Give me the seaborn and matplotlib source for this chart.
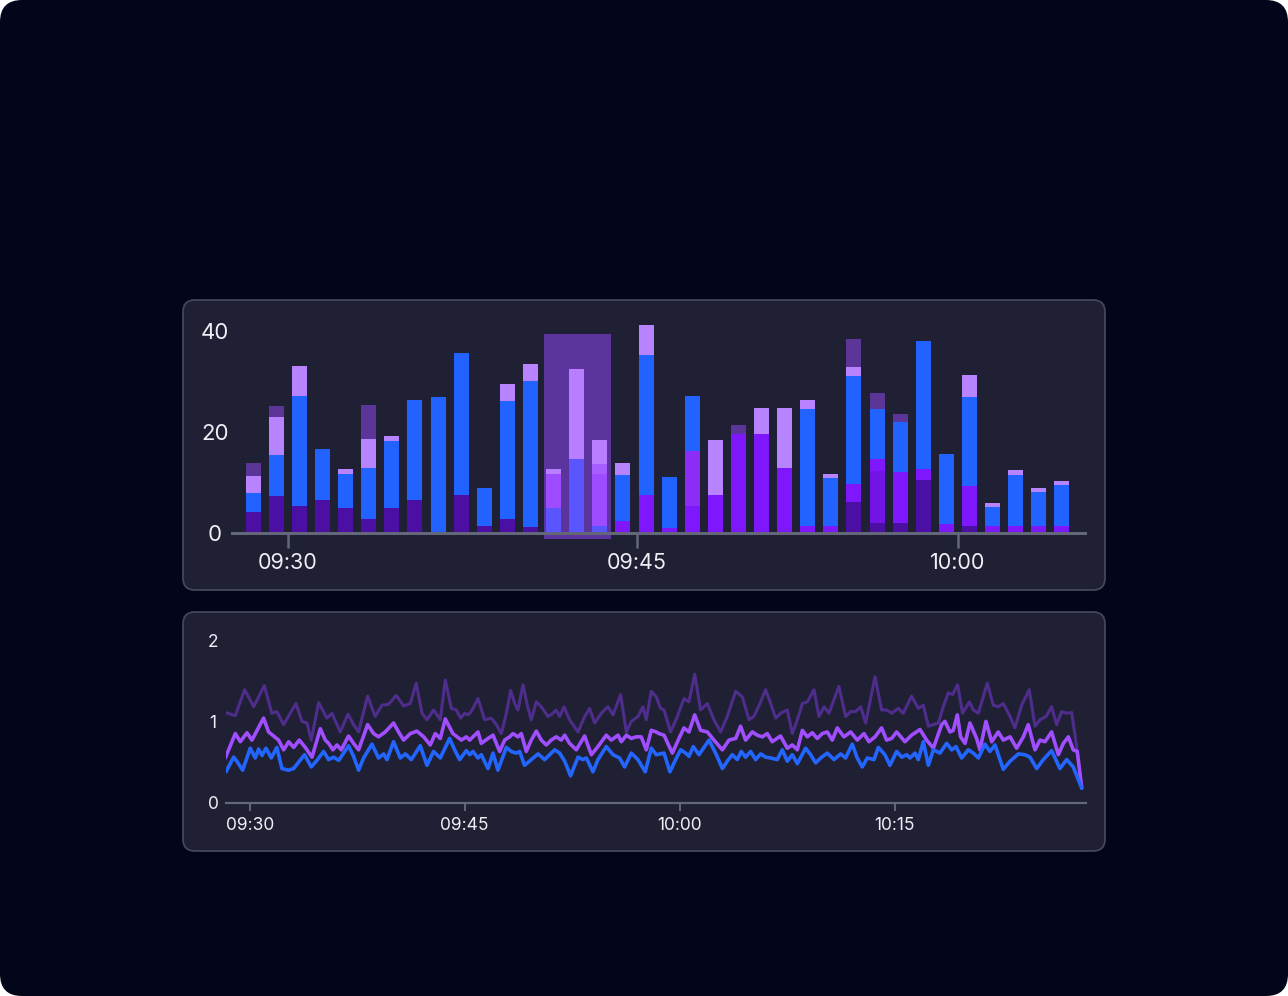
import numpy as np
import pandas as pd
import matplotlib
matplotlib.use("Agg")
import matplotlib.pyplot as plt
import seaborn as sns
from matplotlib.patches import FancyBboxPatch, Rectangle

# ---- top chart: stacked bars (bar index 0..35) ----
bar_idx = list(range(36))
dark_indigo = [4.2, 7.4, 5.5, 6.5, 5.0, 2.8, 5.0, 6.5, 0, 7.6, 1.5, 2.8, 1.3, 5.0, 14.7, 1.4, 0, 0,
               0, 0, 0, 0, 0, 0, 0, 0, 6.1, 2.0, 2.0, 10.6, 0, 1.5, 0, 0, 0, 0]
violet_dark = [0, 0, 0, 0, 0, 0, 0, 0, 0, 0, 0, 0, 0, 0, 0, 0, 0, 0,
               0, 0, 0, 0, 0, 0, 0, 0, 0, 10.4, 0, 0, 0, 0, 0, 0, 0, 0]
violet = [0, 0, 0, 0, 0, 0, 0, 0, 0, 0, 0, 0, 0, 6.8, 0, 10.3, 2.4, 7.6,
          1.0, 5.4, 7.5, 19.7, 19.6, 12.9, 1.4, 1.4, 3.7, 2.3, 10.2, 2.1, 1.9, 7.8, 1.5, 1.5, 1.5, 1.5]
violet_light = [0, 0, 0, 0, 0, 0, 0, 0, 0, 0, 0, 0, 0, 0, 0, 2.0, 0, 0,
                0, 10.9, 0, 0, 0, 0, 0, 0, 0, 0, 0, 0, 0, 0, 0, 0, 0, 0]
blue = [3.7, 8.1, 21.6, 10.1, 6.8, 10.2, 13.3, 19.9, 26.9, 28.1, 7.5, 23.4, 28.9, 0, 0, 0, 9.1, 27.8,
        10.1, 10.9, 0, 0, 0, 0, 23.2, 9.5, 21.4, 9.9, 9.9, 25.3, 13.8, 17.6, 3.7, 10.1, 6.6, 8.1]
lavender = [3.5, 7.5, 6.0, 0, 0.9, 5.7, 1.0, 0, 0, 0, 0, 3.4, 3.3, 0.9, 17.8, 4.8, 2.4, 5.8,
            0, 0, 10.9, 0, 5.2, 11.9, 1.8, 0.8, 1.7, 0, 0, 0, 0, 4.4, 0.8, 0.9, 0.8, 0.8]
dusk = [2.6, 2.2, 0, 0, 0, 6.7, 0, 0, 0, 0, 0, 0, 0, 0, 0, 0, 0, 0,
        0, 0, 0, 1.8, 0, 0, 0, 0, 5.5, 3.2, 1.5, 0, 0, 0, 0, 0, 0, 0]

selected = [13, 14, 15]
sel_top = 39.5
bar_ticks = [1.5, 16.6, 30.5]
bar_tick_labels = ["09:30", "09:45", "10:00"]

# ---- bottom chart: three lines, minutes after 09:30 ----
t_top = [-1.70, -1.00, -0.35, 0.28, 1.02, 1.55, 1.90, 2.37, 3.23, 3.65, 4.00, 4.30, 4.81, 5.39, 5.74,
         6.32, 6.86, 7.25, 7.60, 8.23, 8.76, 9.23, 9.69, 10.23, 10.74, 11.21, 11.62, 12.02, 12.37, 12.83, 13.30,
         13.65, 14.07, 14.42, 14.72, 15.00, 15.23, 15.46, 15.93, 16.39, 16.86, 17.21, 17.56, 17.91, 18.21,
         18.49, 18.72, 19.07, 19.42, 19.65, 20.00, 20.35, 20.81, 21.16, 21.39, 21.63, 21.93, 22.32, 22.91,
         23.37, 23.72, 24.07, 24.53, 25.00, 25.35, 25.88, 26.28, 26.63, 27.09, 27.44, 27.67, 28.02, 28.37,
         28.67, 28.91, 29.37, 29.84, 30.30, 30.65, 31.05, 31.46, 31.93, 32.39, 32.86, 33.32, 33.91, 34.37,
         34.84, 35.18, 35.60, 36.00, 36.35, 36.70, 37.04, 37.51, 37.86, 38.21, 38.56, 38.91, 39.37, 39.72,
         40.07, 40.42, 41.11, 41.58, 41.93, 42.28, 42.63, 42.98,
         43.63, 44.09, 44.44, 44.79, 45.25, 45.60, 46.18, 46.65, 47.00, 47.35, 47.70, 48.05, 48.39, 48.74,
         49.05, 49.39, 49.74, 50.21, 50.49, 50.84, 51.46, 51.88, 52.23, 52.58, 53.05, 53.39, 53.86, 54.39,
         54.79, 55.14, 55.56, 55.95, 56.30, 56.65, 57.00, 57.35, 57.70, 58.05]
v_top = [1.11, 1.07, 1.39, 1.18, 1.44, 1.10, 1.12, 0.96, 1.22, 1.00, 0.98, 0.77, 1.23, 1.04, 1.10,
         0.87, 1.09, 0.96, 0.87, 1.31, 1.06, 1.20, 1.21, 1.32, 1.19, 1.22, 1.47, 1.10, 1.02, 1.14, 1.02,
         1.51, 1.16, 1.14, 1.04, 1.10, 1.08, 1.12, 1.28, 1.02, 1.04, 0.96, 0.85, 1.10, 1.38,
         1.22, 1.14, 1.45, 1.16, 1.02, 1.24, 1.18, 1.06, 1.10, 1.14, 1.06, 1.18, 1.02, 0.87,
         1.06, 1.16, 0.98, 1.10, 1.18, 1.08, 1.33, 0.87, 1.00, 1.06, 1.18, 1.02, 1.37, 1.30,
         1.16, 1.14, 0.87, 1.06, 1.28, 1.24, 1.58, 1.14, 1.22, 1.02, 0.87, 1.06, 1.37, 1.30,
         1.02, 1.06, 1.22, 1.39, 1.22, 1.04, 1.10, 1.14, 0.85, 1.02, 1.22, 1.24, 1.39, 1.06,
         1.18, 1.10, 1.43, 1.06, 1.12, 1.12, 1.18, 0.98,
         1.55, 1.14, 1.14, 1.10, 1.16, 1.10, 1.31, 1.16, 1.20, 0.94, 0.96, 0.98, 1.18, 1.35,
         1.33, 1.45, 1.10, 1.24, 1.14, 1.10, 1.47, 1.20, 1.18, 1.22, 1.06, 0.92, 1.20, 1.39,
         0.94, 1.02, 1.06, 1.18, 0.96, 1.12, 1.10, 1.11, 0.69, 0.18]

t_mid = [-1.70, -1.00, -0.65, -0.19, 0.16, 0.97, 1.32, 2.02, 2.37, 2.72, 3.07, 3.46, 3.88, 4.35, 4.93,
         5.28, 5.51, 5.81, 6.09, 6.39, 6.90, 7.25, 7.60, 8.23, 8.65, 8.99, 9.46, 10.04, 10.39, 10.74,
         11.21, 11.67, 12.14, 12.60, 12.95, 13.30,
         13.65, 14.18, 14.77, 15.12, 15.35, 15.93, 16.16, 16.63, 16.98, 17.44, 17.79, 18.14, 18.37, 18.72,
         18.95, 19.30, 19.65, 20.00, 20.35, 20.70, 21.04, 21.39, 21.74, 21.98, 22.32, 22.79, 23.37, 23.84,
         24.30, 24.88, 25.23, 25.70, 25.93, 26.28, 26.63, 26.97, 27.32, 27.67, 28.02, 28.37,
         28.56, 28.91, 29.49, 29.95, 30.30, 30.65, 31.05, 31.46, 31.93, 32.39, 32.98, 33.44, 33.91, 34.25,
         34.60, 35.07, 35.42, 35.77, 36.11, 36.46, 37.04, 37.51, 37.86, 38.21, 38.56, 38.91, 39.25, 39.60,
         39.95, 40.30, 40.65, 41.00, 41.46, 41.93, 42.39, 42.86, 43.21,
         43.63, 44.09, 44.44, 44.79, 45.14, 45.72, 46.18, 46.77, 47.23, 47.70, 48.28, 48.51, 48.86, 49.09,
         49.37, 49.60, 49.91, 50.25, 50.72, 50.95, 51.37, 51.77, 52.23, 52.58, 53.05, 53.51, 53.98, 54.32,
         54.79, 55.14, 55.49, 55.95, 56.42, 56.77, 57.12, 57.46, 57.74, 58.05]
v_mid = [0.55, 0.85, 0.75, 0.86, 0.77, 1.04, 0.87, 0.77, 0.65, 0.75, 0.68, 0.77, 0.68, 0.56, 0.91,
         0.77, 0.73, 0.65, 0.71, 0.65, 0.82, 0.73, 0.65, 0.96, 0.85, 0.81, 0.87, 0.98, 0.87, 0.77,
         0.85, 0.88, 0.81, 0.71, 0.85, 0.79,
         1.03, 0.85, 0.77, 0.81, 0.77, 0.87, 0.73, 0.79, 0.83, 0.63, 0.77, 0.81, 0.85, 0.81,
         0.85, 0.63, 0.77, 0.88, 0.77, 0.71, 0.77, 0.81, 0.77, 0.83, 0.73, 0.65, 0.82, 0.59,
         0.69, 0.83, 0.77, 0.83, 0.75, 0.83, 0.79, 0.81, 0.81, 0.65, 0.89, 0.87,
         0.85, 0.83, 0.61, 0.79, 0.92, 0.87, 1.08, 0.89, 0.87, 0.77, 0.65, 0.77, 0.79, 0.94,
         0.77, 0.87, 0.83, 0.81, 0.85, 0.75, 0.82, 0.67, 0.71, 0.65, 0.89, 0.81, 0.86, 0.79,
         0.85, 0.87, 0.77, 0.92, 0.81, 0.87, 0.77, 0.85, 0.75,
         0.81, 0.92, 0.77, 0.79, 0.87, 0.75, 0.83, 0.90, 0.77, 0.67, 0.96, 1.00, 0.87, 0.89,
         1.08, 0.81, 0.73, 0.98, 0.79, 0.65, 1.00, 0.75, 0.87, 0.77, 0.81, 0.67, 0.81, 0.96,
         0.65, 0.77, 0.75, 0.87, 0.59, 0.73, 0.81, 0.65, 0.63, 0.18]

t_low = [-1.65, -1.12, -0.89, -0.49, 0.04, 0.39, 0.62, 0.86, 1.14, 1.51, 1.90, 2.25, 2.72, 3.07, 3.42,
         3.83, 4.30, 4.69, 5.16, 5.51, 5.86, 6.21, 6.90, 7.25, 7.60, 7.95, 8.53, 8.99, 9.35, 9.58,
         10.04, 10.51, 10.86, 11.28, 11.90, 12.37, 12.83, 13.30,
         13.95, 14.30, 14.65, 15.12, 15.35, 15.58, 15.93, 16.16, 16.63, 16.98, 17.32, 17.91, 18.25, 18.60,
         18.84, 19.18, 19.65, 20.12, 20.58, 20.93, 21.28, 21.63, 21.98, 22.39, 22.91, 23.25, 23.49, 23.95,
         24.30, 24.88, 25.35, 25.81, 26.16, 26.63, 27.09, 27.60, 28.02, 28.37,
         28.91, 29.32, 29.72, 30.07, 30.42, 30.65, 30.95, 31.35, 31.58, 32.05, 32.51, 32.98, 33.32, 33.67,
         34.02, 34.30, 34.60, 34.95, 35.30, 35.65, 36.00, 36.35, 36.81, 37.16, 37.51, 37.86, 38.21, 38.79,
         39.14, 39.49, 39.84, 40.30, 40.77, 41.23, 41.58, 42.04, 42.39, 42.74, 43.09, 43.56,
         43.86, 44.32, 44.67, 45.14, 45.49, 45.84, 46.07, 46.42, 46.65, 47.00, 47.35, 47.70, 48.16, 48.63,
         48.98, 49.28, 49.67, 50.14, 50.49, 50.84, 51.30, 51.65, 52.00, 52.58, 53.05, 53.63, 54.09, 54.44,
         54.91, 55.37, 55.95, 56.53, 57.00, 57.46, 58.05]
v_low = [0.38, 0.56, 0.51, 0.40, 0.67, 0.55, 0.66, 0.58, 0.67, 0.55, 0.68, 0.42, 0.40, 0.42, 0.50,
         0.59, 0.44, 0.52, 0.63, 0.53, 0.56, 0.52, 0.70, 0.57, 0.40, 0.55, 0.72, 0.55, 0.60, 0.53,
         0.75, 0.55, 0.60, 0.53, 0.70, 0.46, 0.63, 0.55,
         0.79, 0.65, 0.53, 0.64, 0.59, 0.63, 0.55, 0.59, 0.42, 0.61, 0.40, 0.68, 0.63, 0.61,
         0.63, 0.46, 0.53, 0.60, 0.53, 0.59, 0.65, 0.61, 0.51, 0.33, 0.56, 0.53, 0.55, 0.38,
         0.53, 0.69, 0.59, 0.55, 0.44, 0.61, 0.53, 0.38, 0.67, 0.59,
         0.61, 0.38, 0.53, 0.65, 0.61, 0.57, 0.69, 0.59, 0.65, 0.77, 0.61, 0.42, 0.51, 0.59,
         0.53, 0.63, 0.56, 0.63, 0.53, 0.60, 0.56, 0.55, 0.53, 0.65, 0.51, 0.59, 0.48, 0.67,
         0.59, 0.49, 0.55, 0.61, 0.53, 0.60, 0.55, 0.72, 0.55, 0.44, 0.55, 0.53,
         0.68, 0.59, 0.46, 0.63, 0.56, 0.59, 0.55, 0.61, 0.53, 0.75, 0.46, 0.65, 0.61, 0.73,
         0.65, 0.69, 0.55, 0.65, 0.61, 0.55, 0.72, 0.63, 0.71, 0.41, 0.51, 0.60, 0.59, 0.56,
         0.42, 0.53, 0.64, 0.42, 0.53, 0.44, 0.18]

line_ticks = [0, 15, 30, 45]
line_tick_labels = ["09:30", "09:45", "10:00", "10:15"]

# ---- styling ----
sns.set_theme(style="dark")
plt.rcParams['font.family'] = ['Inter', 'DejaVu Sans']

page_bg = "#03061a"
card_bg = "#1f2034"
card_edge = "#44465a"
axis_col = "#64667a"
text_col = "#eeeef4"

stack = [
    (dark_indigo, "#4b10a3", "#5b55ff"),
    (violet_dark, "#7214e6", "#8a45ff"),
    (violet, "#7e17fc", "#9d4cff"),
    (violet_light, "#8d2cf6", "#a75dff"),
    (blue, "#2262fe", "#5b55ff"),
    (lavender, "#b883fe", "#b97dff"),
    (dusk, "#5b3598", "#6a40b0"),
]

fig = plt.figure(figsize=(12.88, 9.96), dpi=100, facecolor="white")
fig.add_artist(FancyBboxPatch((0, 0), 12.88, 9.96, boxstyle="round,pad=0,rounding_size=0.22",
                              transform=fig.dpi_scale_trans, facecolor=page_bg,
                              edgecolor="none", zorder=-10))
for (cx, cy, cw, ch) in [(1.83, 4.06, 9.22, 2.90), (1.83, 1.45, 9.22, 2.39)]:
    fig.add_artist(FancyBboxPatch((cx, cy), cw, ch, boxstyle="round,pad=0,rounding_size=0.12",
                                  transform=fig.dpi_scale_trans, facecolor=card_bg,
                                  edgecolor=card_edge, linewidth=1.3, zorder=-5))

# top: stacked bars
ax1 = fig.add_axes([0.18012, 0.46456, 0.66227, 0.21295])
ax1.set_facecolor("none")
ax1.grid(False)
x = np.array(bar_idx)
bottoms = np.zeros(len(x))
for vals, col, hcol in stack:
    vals = np.array(vals, dtype=float)
    cols = [hcol if i in selected else col for i in bar_idx]
    ax1.bar(x, vals, bottom=bottoms, width=0.65, color=cols, linewidth=0, zorder=3)
    bottoms += vals

lo, hi = min(selected), max(selected)
ax1.add_patch(Rectangle((lo - 0.42, -1.1), hi - lo + 0.90, sel_top + 1.1,
                        facecolor="#5c349e", edgecolor="none", zorder=2, clip_on=False))

ax1.set_xlim(-0.92, 36.0)
ax1.set_ylim(0, 42)
for s in ["top", "right", "left"]:
    ax1.spines[s].set_visible(False)
ax1.spines["bottom"].set_color(axis_col)
ax1.spines["bottom"].set_linewidth(2.2)
ax1.spines["bottom"].set_zorder(4)
ax1.set_xticks(bar_ticks, bar_tick_labels)
ax1.set_yticks([0, 20, 40], ["0", "20", "40"])
ax1.tick_params(axis="x", bottom=True, length=10.8, width=1.8, color=axis_col, pad=3.6,
                labelsize=15.5, labelcolor=text_col)
ax1.tick_params(axis="y", left=False, length=0, pad=12.2, labelsize=16, labelcolor=text_col)
for lbl in ax1.get_yticklabels():
    lbl.set_horizontalalignment("center")

# bottom: lines
ax2 = fig.add_axes([0.17547, 0.19408, 0.66770, 0.16737])
ax2.set_facecolor("none")
ax2.grid(False)
sns.lineplot(x=t_top, y=v_top, ax=ax2, color="#4f2d8c", linewidth=2.2, estimator=None, sort=False)
sns.lineplot(x=t_mid, y=v_mid, ax=ax2, color="#a04eff", linewidth=2.6, estimator=None, sort=False)
sns.lineplot(x=t_low, y=v_low, ax=ax2, color="#2366ff", linewidth=2.6, estimator=None, sort=False)
for ln in ax2.get_lines():
    ln.set_solid_joinstyle("round")
    ln.set_solid_capstyle("round")

ax2.set_xlim(-1.65, 58.35)
ax2.set_ylim(0, 2.05)
for s in ["top", "right", "left"]:
    ax2.spines[s].set_visible(False)
ax2.spines["bottom"].set_color(axis_col)
ax2.spines["bottom"].set_linewidth(1.6)
ax2.set_xticks(line_ticks, line_tick_labels)
ax2.set_yticks([0, 1, 2], ["0", "1", "2"])
ax2.tick_params(axis="x", bottom=True, length=5.8, width=1.4, color=axis_col, pad=4.3,
                labelsize=12.5, labelcolor=text_col)
ax2.tick_params(axis="y", left=False, length=0, pad=9.4, labelsize=12.5, labelcolor=text_col)
for lbl in ax2.get_yticklabels():
    lbl.set_horizontalalignment("center")
ax2.set_xlabel("")
ax2.set_ylabel("")

fig.savefig("out.png", dpi=100, facecolor=fig.get_facecolor())
